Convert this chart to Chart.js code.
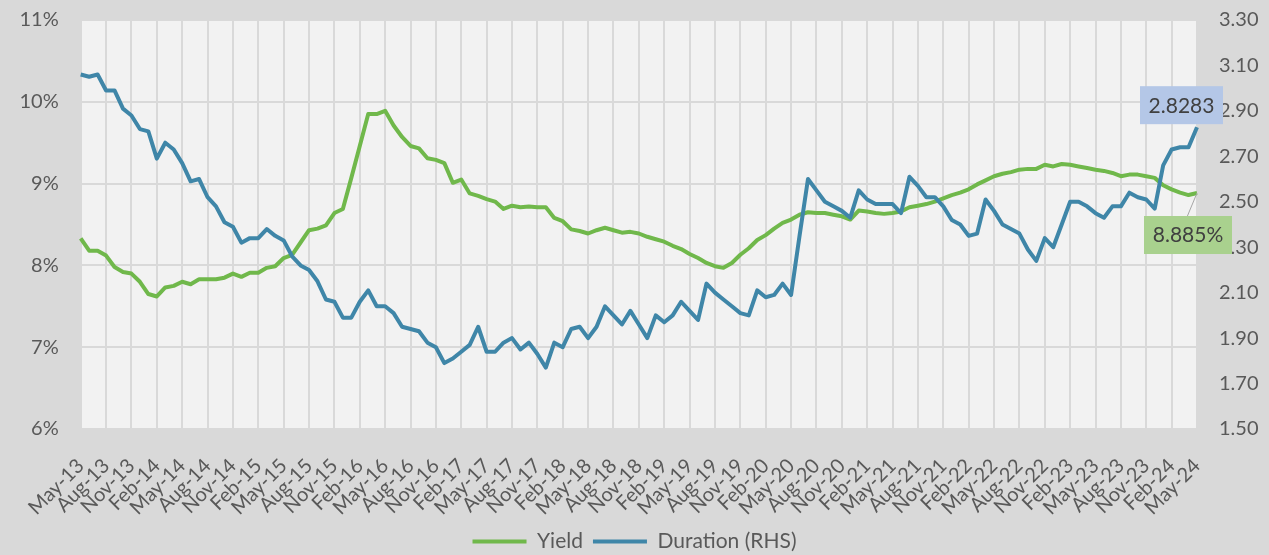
<!DOCTYPE html>
<html>
<head>
<meta charset="utf-8">
<script src="https://cdn.jsdelivr.net/npm/chart.js@4.4.1/dist/chart.umd.min.js"></script>
<style>
  body { margin: 0; background: #d9d9d9; }
  canvas { display: block; }
</style>
</head>
<body>
<canvas id="yieldchart" width="1269" height="555"></canvas>
<script>
// monthly categories May-13 .. May-24
const monthNames = ['Jan','Feb','Mar','Apr','May','Jun','Jul','Aug','Sep','Oct','Nov','Dec'];
const months = [];
for (let i = 0; i < 133; i++) {
    months.push(monthNames[(4 + i) % 12] + '-' + (13 + Math.floor((4 + i) / 12)));
}

// Yield, % (left axis)
const yieldData = [
    8.33, 8.18, 8.18, 8.12, 7.98, 7.92, 7.90, 7.80, 7.65, 7.62, 7.73, 7.75,
    7.80, 7.77, 7.83, 7.83, 7.83, 7.85, 7.90, 7.86, 7.91, 7.91, 7.97, 7.99,
    8.09, 8.13, 8.28, 8.43, 8.45, 8.49, 8.64, 8.69, 9.07, 9.46, 9.85, 9.85,
    9.89, 9.71, 9.57, 9.46, 9.43, 9.31, 9.29, 9.25, 9.01, 9.05, 8.88, 8.85,
    8.81, 8.78, 8.69, 8.73, 8.71, 8.72, 8.71, 8.71, 8.58, 8.54, 8.44, 8.42,
    8.39, 8.43, 8.46, 8.43, 8.40, 8.41, 8.39, 8.35, 8.32, 8.29, 8.24, 8.20,
    8.14, 8.09, 8.03, 7.99, 7.97, 8.03, 8.13, 8.21, 8.31, 8.37, 8.45, 8.52,
    8.56, 8.62, 8.65, 8.64, 8.64, 8.62, 8.60, 8.56, 8.67, 8.66, 8.64, 8.63,
    8.64, 8.66, 8.71, 8.73, 8.75, 8.78, 8.82, 8.86, 8.89, 8.93, 8.99, 9.04,
    9.09, 9.12, 9.14, 9.17, 9.18, 9.18, 9.23, 9.21, 9.24, 9.23, 9.21, 9.19,
    9.17, 9.155, 9.13, 9.09, 9.11, 9.11, 9.09, 9.07, 8.98, 8.93, 8.89, 8.86,
    8.885
];

// Duration, years (right axis)
const durationData = [
    3.06, 3.05, 3.06, 2.99, 2.99, 2.91, 2.88, 2.82, 2.81, 2.69, 2.76, 2.73,
    2.67, 2.59, 2.60, 2.52, 2.48, 2.41, 2.39, 2.32, 2.34, 2.34, 2.38, 2.35,
    2.33, 2.26, 2.22, 2.20, 2.15, 2.07, 2.06, 1.99, 1.99, 2.06, 2.11, 2.04,
    2.04, 2.01, 1.95, 1.94, 1.93, 1.88, 1.86, 1.79, 1.81, 1.84, 1.87, 1.95,
    1.84, 1.84, 1.88, 1.90, 1.85, 1.88, 1.83, 1.77, 1.88, 1.86, 1.94, 1.95,
    1.90, 1.95, 2.04, 2.00, 1.96, 2.02, 1.96, 1.90, 2.00, 1.97, 2.00, 2.06,
    2.02, 1.98, 2.14, 2.10, 2.07, 2.04, 2.01, 2.00, 2.11, 2.08, 2.09, 2.14,
    2.09, 2.35, 2.60, 2.55, 2.50, 2.48, 2.46, 2.43, 2.55, 2.51, 2.49, 2.49,
    2.49, 2.45, 2.61, 2.57, 2.52, 2.52, 2.48, 2.42, 2.40, 2.35, 2.36, 2.51,
    2.46, 2.40, 2.38, 2.36, 2.29, 2.24, 2.34, 2.30, 2.40, 2.50, 2.50, 2.48,
    2.45, 2.43, 2.48, 2.48, 2.54, 2.52, 2.51, 2.47, 2.66, 2.73, 2.74, 2.74,
    2.8283
];

const green = '#70b84b';
const blue = '#3f86a8';
const textColor = '#595959';
const fontName = 'Lato, "Open Sans", sans-serif';

// grey background + light plot area
const backgroundPlugin = {
    id: 'bg',
    beforeDraw(chart) {
        const c = chart.ctx, a = chart.chartArea;
        c.save();
        c.fillStyle = '#d9d9d9';
        c.fillRect(0, 0, chart.width, chart.height);
        c.fillStyle = '#f2f2f2';
        c.fillRect(a.left, a.top, a.right - a.left, a.bottom - a.top);
        c.restore();
    }
};

// value boxes at the last point of each line
const endLabelsPlugin = {
    id: 'endLabels',
    afterDatasetsDraw(chart) {
        const c = chart.ctx;
        const ym = chart.getDatasetMeta(0).data;
        const dm = chart.getDatasetMeta(1).data;
        const py = ym[ym.length - 1], pd = dm[dm.length - 1];
        c.save();
        c.font = '21px ' + fontName;
        c.textAlign = 'center';
        c.textBaseline = 'middle';

        // duration box
        c.fillStyle = '#b4c7e7';
        c.fillRect(pd.x - 57, pd.y - 41, 83, 38);
        c.fillStyle = '#404040';
        c.fillText(durationData[durationData.length - 1].toFixed(4), pd.x - 15.5, pd.y - 21);

        // yield box with leader line
        c.strokeStyle = '#a6a6a6';
        c.lineWidth = 1;
        c.beginPath();
        c.moveTo(py.x, py.y);
        c.lineTo(py.x - 10, py.y + 24);
        c.stroke();
        c.fillStyle = '#a9d18e';
        c.fillRect(py.x - 53, py.y + 23, 88, 38);
        c.fillStyle = '#404040';
        c.fillText(yieldData[yieldData.length - 1].toFixed(3) + '%', py.x - 9, py.y + 42);
        c.restore();
    }
};

// stop the y axes from pushing the plot area down (tick padding counts as top padding)
function fitYAxis(width) {
    return s => {
        s.width = width;
        s.paddingTop = 0;
        s.paddingBottom = 0;
    };
}

const ctx = document.getElementById('yieldchart').getContext('2d');
const yieldChart = new Chart(ctx, {
    type: 'line',
    data: {
        labels: months,
        datasets: [{
            label: 'Yield',
            data: yieldData,
            borderColor: green,
            backgroundColor: green,
            borderWidth: 4,
            pointRadius: 0,
            tension: 0,
            borderJoinStyle: 'round',
            yAxisID: 'y',
            order: 1
        }, {
            label: 'Duration (RHS)',
            data: durationData,
            borderColor: blue,
            backgroundColor: blue,
            borderWidth: 4,
            pointRadius: 0,
            tension: 0,
            borderJoinStyle: 'round',
            yAxisID: 'y1',
            order: 0
        }]
    },
    options: {
        responsive: false,
        animation: false,
        layout: { padding: { top: 20, left: 0, right: 0, bottom: -7 } },
        plugins: {
            tooltip: { enabled: false },
            legend: {
                position: 'bottom',
                labels: {
                    usePointStyle: true,
                    pointStyle: 'line',
                    pointStyleWidth: 54,
                    padding: 10,
                    color: textColor,
                    font: { family: fontName, size: 21 },
                    sort: (a, b) => a.datasetIndex - b.datasetIndex
                }
            }
        },
        scales: {
            x: {
                offset: false,
                border: { display: false },
                grid: {
                    color: c => (c.index % 3 === 0 ? '#d9d9d9' : 'rgba(0,0,0,0)'),
                    lineWidth: 2,
                    drawTicks: false
                },
                ticks: {
                    autoSkip: false,
                    minRotation: 45,
                    maxRotation: 45,
                    padding: 25,
                    color: textColor,
                    font: { family: fontName, size: 20 },
                    callback: function (val, idx) {
                        return idx % 3 === 0 ? this.getLabelForValue(val) : '';
                    }
                },
                afterFit: s => { s.height = 92; }
            },
            y: {
                position: 'left',
                min: 6,
                max: 11,
                border: { display: false },
                grid: { color: '#d9d9d9', lineWidth: 2, drawTicks: false },
                ticks: {
                    stepSize: 1,
                    padding: 22,
                    color: textColor,
                    font: { family: fontName, size: 20 },
                    callback: v => v + '%'
                },
                afterFit: fitYAxis(80.7)
            },
            y1: {
                position: 'right',
                min: 1.5,
                max: 3.3,
                border: { display: false },
                grid: { drawOnChartArea: false, drawTicks: false },
                ticks: {
                    stepSize: 0.2,
                    padding: 22,
                    color: textColor,
                    font: { family: fontName, size: 20 },
                    callback: v => v.toFixed(2)
                },
                afterFit: fitYAxis(72)
            }
        }
    },
    plugins: [backgroundPlugin, endLabelsPlugin]
});
</script>
</body>
</html>
